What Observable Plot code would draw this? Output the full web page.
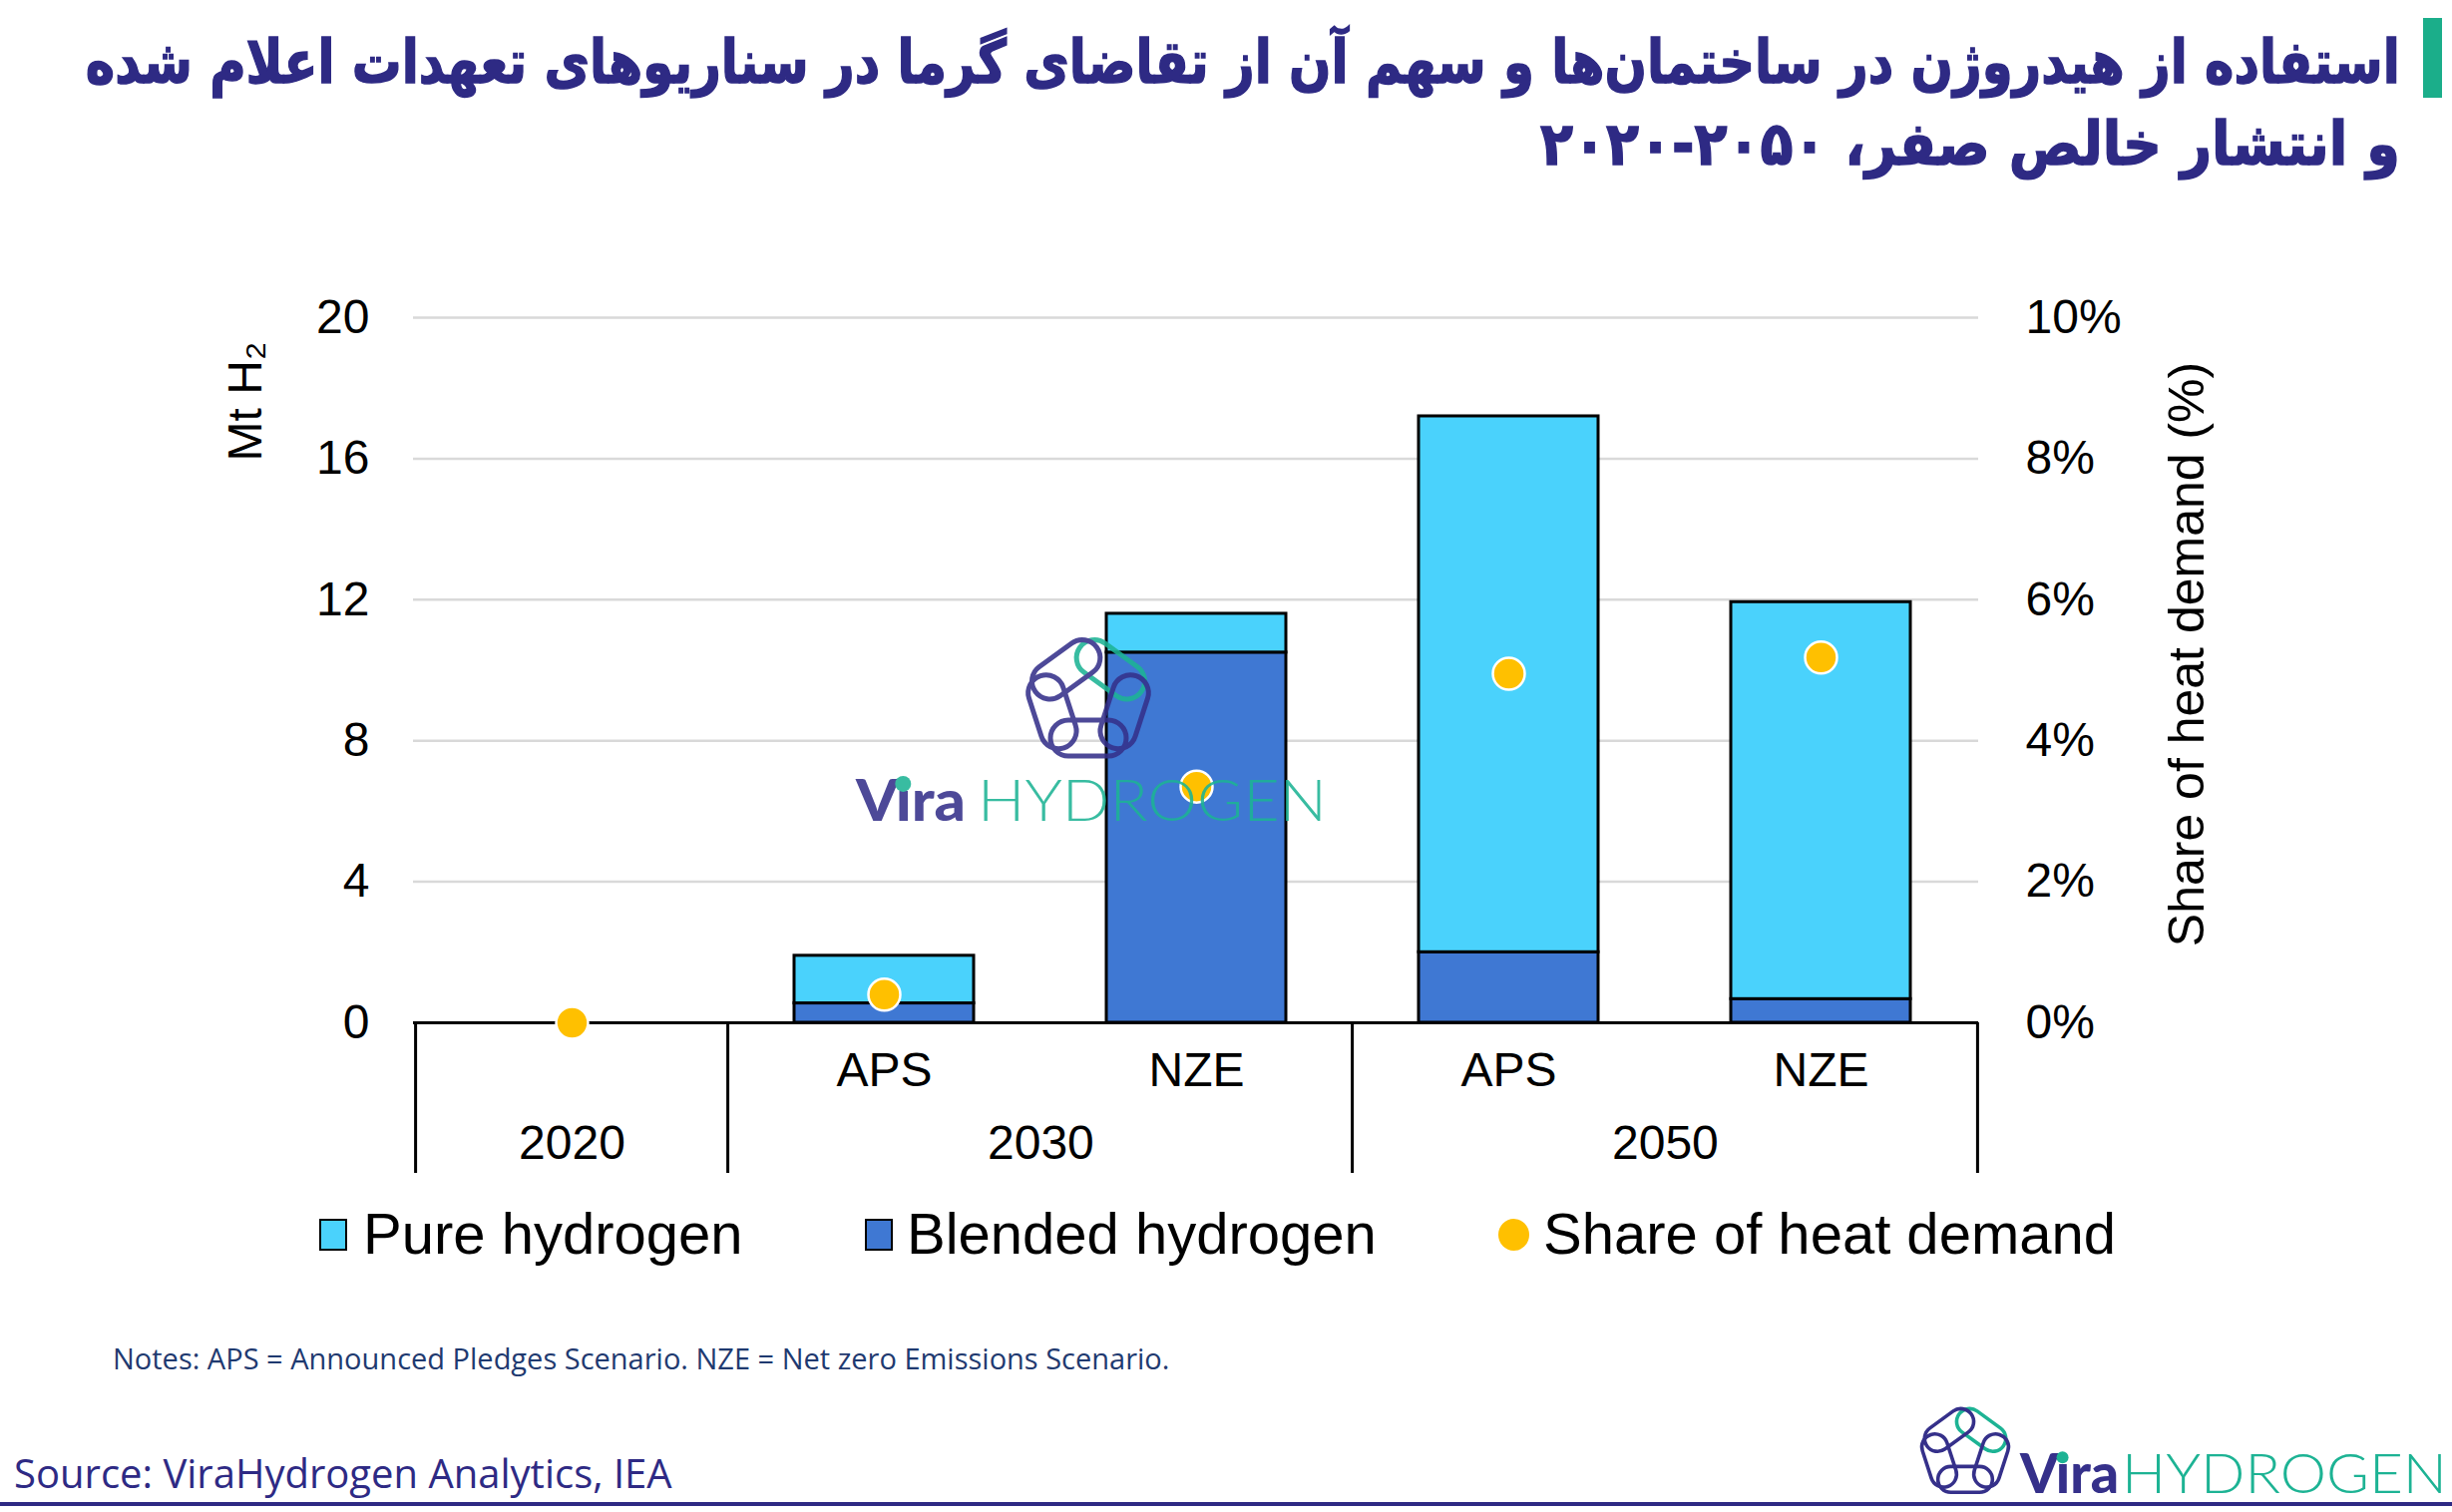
<!DOCTYPE html>
<html>
<head>
<meta charset="utf-8">
<script src="https://cdn.jsdelivr.net/npm/d3@7"></script>
<script src="https://cdn.jsdelivr.net/npm/@observablehq/plot@0.6"></script>
<style>
  html, body { margin: 0; padding: 0; background: #fff; }
  #page { position: relative; width: 2458px; height: 1516px; overflow: hidden; background: #fff; }
  .tline { position: absolute; right: 52px; white-space: nowrap; direction: rtl;
           font-family: "DejaVu Sans", sans-serif; font-weight: bold; font-size: 60px; line-height: 60px;
           color: #2E2A84; -webkit-text-stroke: 1.5px #2E2A84; transform-origin: right center; }
  #gbar { position: absolute; left: 2429px; top: 18px; width: 19px; height: 80px; background: #1BAE8A; }
  #chart { position: absolute; left: 0; top: 190px; }
  .leg { position: absolute; font-family: "Liberation Sans", Arial, sans-serif; font-size: 58px; line-height: 58px; color: #000; white-space: nowrap; }
  .sw { position: absolute; box-sizing: border-box; border: 2px solid #000; }
  #notes { position: absolute; left: 113px; top: 1347px; font-family: "Open Sans", sans-serif; font-size: 29px; line-height: 29px; color: #1F3A70; white-space: nowrap; }
  #source { position: absolute; left: 14px; top: 1457px; font-family: "Open Sans", sans-serif; font-size: 40px; line-height: 40px; color: #2E2A84; white-space: nowrap; }
  #bline { position: absolute; left: 0; top: 1506px; width: 2458px; height: 4px; background: #2E2A84; }
  #deco { position: absolute; left: 0; top: 0; pointer-events: none; }
</style>
</head>
<body>
<div id="page">
  <div class="tline" id="t1" style="top:32px">استفاده از هیدروژن در ساختمان‌ها و سهم آن از تقاضای گرما در سناریوهای تعهدات اعلام شده</div>
  <div class="tline" id="t2" style="top:114px">و انتشار خالص صفر، ۲۰۵۰-۲۰۲۰</div>
  <div id="gbar"></div>
  <div id="chart"></div>
  <div id="legend"></div>
  <div id="notes">Notes: APS = Announced Pledges Scenario. NZE = Net zero Emissions Scenario.</div>
  <div id="source">Source: ViraHydrogen Analytics, IEA</div>
  <div id="bline"></div>
  <svg id="deco" width="2458" height="1516"></svg>
</div>
<script>
// ---------------- data ----------------
const ids = ["2020", "2030 APS", "2030 NZE", "2050 APS", "2050 NZE"];
const years = ["2020", "2030", "2030", "2050", "2050"];
const scenarios = ["", "APS", "NZE", "APS", "NZE"];
const pureHydrogen = [0, 1.35, 1.1, 15.2, 11.26];      // Mt H2
const blendedHydrogen = [0, 0.55, 10.5, 2.0, 0.67];    // Mt H2
const shareHeatDemand = [0, 0.40, 3.35, 4.95, 5.18];   // % of heat demand
const leftTicks = [0, 4, 8, 12, 16, 20];
const rightMax = 10; // right axis max (%)
const seriesNames = ["Pure hydrogen", "Blended hydrogen"];
const seriesColors = ["#4AD2FC", "#3F78D3"];
const shareName = "Share of heat demand";
const shareColor = "#FFC000";

// ---------------- layout ----------------
const W = 2458, H = 1000;
const ML = 414, MR = 475, MT = 128, MB = 165;
const step = (W - ML - MR) / ids.length;
const shareToMt = leftTicks[leftTicks.length - 1] / rightMax;

const rows = [];
ids.forEach((id, i) => {
  rows.push({id, type: "Blended hydrogen", value: blendedHydrogen[i]});
  rows.push({id, type: "Pure hydrogen", value: pureHydrogen[i]});
});
const barRows = rows.filter(d => d.value > 0);
const dots = ids.map((id, i) => ({id, share: shareHeatDemand[i]}));
const scenarioById = new Map(ids.map((id, i) => [id, scenarios[i]]));
const groups = d3.groups(ids.map((id, i) => ({id, year: years[i]})), d => d.year)
  .map(([year, items]) => ({year, first: items[0].id, last: items[items.length - 1].id, size: items.length}));
const lastGroup = groups[groups.length - 1];

const chart = Plot.plot({
  width: W, height: H,
  marginLeft: ML, marginRight: MR, marginTop: MT, marginBottom: MB,
  style: {fontFamily: "'Liberation Sans', Arial, sans-serif", color: "black", background: "white"},
  x: {domain: ids, paddingInner: 0.425, paddingOuter: 0.2125, axis: null},
  y: {domain: [0, 20], axis: null},
  color: {domain: seriesNames, range: seriesColors},
  marks: [
    Plot.gridY({ticks: leftTicks, stroke: "#d9d9d9", strokeOpacity: 1, strokeWidth: 2.5}),
    Plot.barY(barRows, {x: "id", y: "value", fill: "type", stroke: "black", strokeWidth: 3,
      order: ["Blended hydrogen", "Pure hydrogen"]}),
    Plot.ruleY([0], {stroke: "black", strokeWidth: 3}),
    Plot.ruleX(groups, {x: "first", y1: 0, y2: 0, dx: -step / 2, insetBottom: -151, stroke: "black", strokeWidth: 3}),
    Plot.ruleX([lastGroup], {x: "last", y1: 0, y2: 0, dx: step / 2, insetBottom: -151, stroke: "black", strokeWidth: 3}),
    Plot.dot(dots, {x: "id", y: d => d.share * shareToMt, r: 16, fill: shareColor, stroke: "white", strokeWidth: 2.5}),
    Plot.axisX({tickSize: 0, tickPadding: 29, fontSize: 48, label: null, tickFormat: id => scenarioById.get(id)}),
    ...d3.groups(groups, g => g.size).map(([size, gs]) =>
      Plot.text(gs, {x: "first", y: 0, text: "year", dx: (size - 1) * step / 2, dy: 121, fontSize: 48})),
    Plot.axisY({anchor: "left", ticks: leftTicks, tickSize: 0, tickPadding: 44, fontSize: 48, label: null}),
    Plot.axisY({anchor: "right", ticks: leftTicks, tickSize: 0, tickPadding: 47, fontSize: 48, label: null,
      tickFormat: d => `${d / shareToMt}%`}),
    Plot.text(["Mt H₂"], {frameAnchor: "top-left", rotate: -90, textAnchor: "end", lineAnchor: "middle",
      dx: -168, dy: 24, fontSize: 48}),
    Plot.text(["Share of heat demand (%)"], {frameAnchor: "right", rotate: -90, textAnchor: "middle", lineAnchor: "middle",
      dx: 209, dy: -16, fontSize: 50})
  ]
});
document.getElementById("chart").appendChild(chart);

// ---------------- legend ----------------
const legend = document.getElementById("legend");
const legItems = [
  {label: seriesNames[0], color: seriesColors[0], kind: "sq", sx: 320, tx: 364},
  {label: seriesNames[1], color: seriesColors[1], kind: "sq", sx: 867, tx: 909},
  {label: shareName, color: shareColor, kind: "dot", sx: 1502, tx: 1547}
];
legItems.forEach(it => {
  const s = document.createElement("div");
  s.className = "sw";
  if (it.kind === "sq") {
    Object.assign(s.style, {left: it.sx + "px", top: "1222px", width: "28px", height: "32px", background: it.color});
  } else {
    Object.assign(s.style, {left: it.sx + "px", top: "1222px", width: "31px", height: "32px", background: it.color, border: "none", borderRadius: "50%"});
  }
  legend.appendChild(s);
  const t = document.createElement("div");
  t.className = "leg";
  t.textContent = it.label;
  Object.assign(t.style, {left: it.tx + "px", top: "1208px"});
  legend.appendChild(t);
});

// ---------------- title fit ----------------
function fitLine(id, targetWidth) {
  const el = document.getElementById(id);
  const w = el.getBoundingClientRect().width;
  if (w > 0) el.style.transform = `scaleX(${targetWidth / w})`;
}
fitLine("t1", 2320);
fitLine("t2", 862);

// ---------------- logos (decoration) ----------------
const NAVY = "#35308A", TEAL = "#1DB394";
function linkIcon(cx, cy, s) {
  const a = 38 * s, L = 76 * s, T = 36 * s, sw = 5 * s;
  const angles = [-54, 18, 90, 162, 234];
  const colors = [TEAL, NAVY, NAVY, NAVY, NAVY];
  let out = "";
  angles.forEach((ang, k) => {
    const rad = ang * Math.PI / 180;
    const x = cx + a * Math.cos(rad), y = cy + a * Math.sin(rad);
    out += `<rect x="${x - L / 2}" y="${y - T / 2}" width="${L}" height="${T}" rx="${T / 2}" transform="rotate(${ang + 90} ${x} ${y})" fill="none" stroke="${colors[k]}" stroke-width="${sw}"/>`;
  });
  return out;
}
function wordmark(x, base, fs, viraW, gap, hydW, dotR) {
  return `<text x="${x}" y="${base}" font-family="Lato, 'Open Sans', sans-serif" font-weight="900" font-size="${fs}" fill="${NAVY}" textLength="${viraW}" lengthAdjust="spacingAndGlyphs">V\u0131ra</text>` +
    `<circle cx="${x + viraW * 0.43}" cy="${base - fs * 0.64}" r="${dotR}" fill="${TEAL}"/>` +
    `<text x="${x + viraW + gap}" y="${base}" font-family="Lato, 'Open Sans', sans-serif" font-weight="300" font-size="${fs}" fill="${TEAL}" textLength="${hydW}" lengthAdjust="spacingAndGlyphs">HYDROGEN</text>`;
}
document.getElementById("deco").innerHTML =
  `<g opacity="0.88">${linkIcon(1091, 702, 1)}${wordmark(858, 823, 58, 110, 12, 350, 8)}</g>` +
  `<g>${linkIcon(1970, 1456, 0.72)}${wordmark(2025, 1497, 56, 99, 3, 326, 6)}</g>`;
</script>
</body>
</html>
